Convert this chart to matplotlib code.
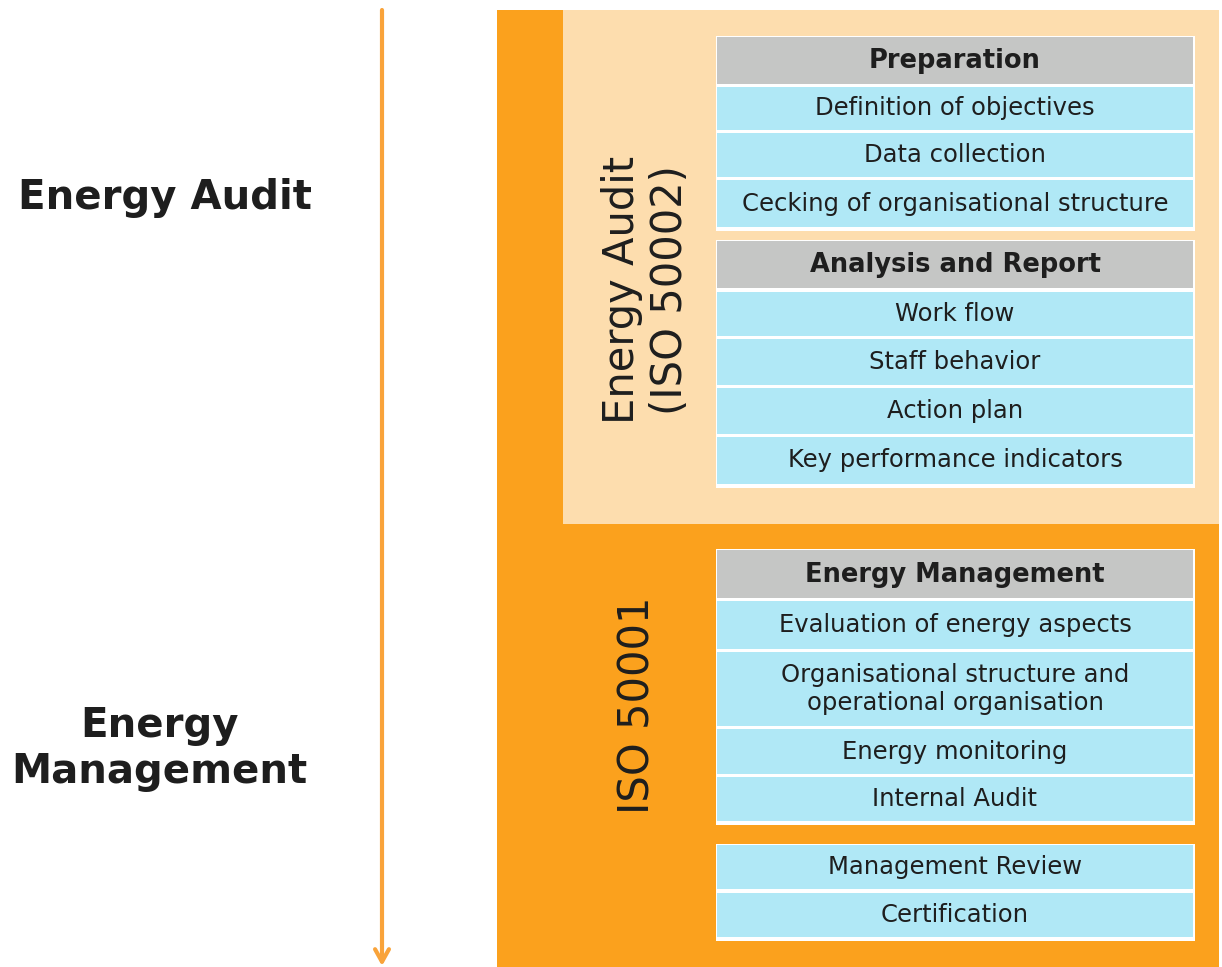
import matplotlib
matplotlib.use("Agg")
import matplotlib.pyplot as plt
from matplotlib.patches import Rectangle, FancyArrowPatch

# ---- content ----
side_labels = ["Energy Audit", "Energy\nManagement"]
band_labels = ["Energy Audit\n(ISO 50002)", "ISO 50001"]

group_headers = ["Preparation", "Analysis and Report", "Energy Management", None]
group_items = [
    ["Definition of objectives", "Data collection", "Cecking of organisational structure"],
    ["Work flow", "Staff behavior", "Action plan", "Key performance indicators"],
    ["Evaluation of energy aspects", "Organisational structure and\noperational organisation",
     "Energy monitoring", "Internal Audit"],
    ["Management Review", "Certification"],
]

# ---- layout (pixels) ----
W, H = 1222, 967
ORANGE = "#FBA11D"
PEACH = "#FDDDAE"
BLUE = "#B0E8F6"
GRAY = "#C5C6C5"
ARROW = "#F9A33A"
TXT = "#1e1e1e"

header_spans = [(37, 84), (241, 288), (550, 598), None]
row_spans = [
    [(87, 132), (133, 179), (180, 229)],
    [(292, 338), (339, 387), (388, 436), (437, 486)],
    [(601, 651), (652, 728), (729, 776), (777, 823)],
    [(845, 891), (893, 939)],
]
BX0, BX1 = 717, 1193

fig = plt.figure(figsize=(W / 100, H / 100), dpi=100)
ax = fig.add_axes([0, 0, 1, 1])
ax.set_xlim(0, W)
ax.set_ylim(H, 0)
ax.axis("off")

# background panels
ax.add_patch(Rectangle((497, 10), 1219 - 497, H - 10, facecolor=ORANGE, edgecolor="none"))
ax.add_patch(Rectangle((563, 10), 1219 - 563, 524 - 10, facecolor=PEACH, edgecolor="none"))

# boxes
for hdr, hspan, items, rspans in zip(group_headers, header_spans, group_items, row_spans):
    tops = [r[0] for r in rspans]
    y_top = hspan[0] if hspan else tops[0]
    y_bot = rspans[-1][1]
    ax.add_patch(Rectangle((BX0 - 1.5, y_top - 1.5), BX1 - BX0 + 3, y_bot - y_top + 3,
                           facecolor="white", edgecolor="none"))
    if hspan:
        ax.add_patch(Rectangle((BX0, hspan[0]), BX1 - BX0, hspan[1] - hspan[0],
                               facecolor=GRAY, edgecolor="none"))
        ax.text((BX0 + BX1) / 2, (hspan[0] + hspan[1]) / 2 + 1, hdr, ha="center", va="center",
                fontsize=18.5, fontweight="bold", color=TXT)
    for label, (y0, y1) in zip(items, rspans):
        ax.add_patch(Rectangle((BX0, y0), BX1 - BX0, y1 - y0 - 2,
                               facecolor=BLUE, edgecolor="none"))
        ax.text((BX0 + BX1) / 2, (y0 + y1) / 2 - 1, label, ha="center", va="center",
                fontsize=17.5, color=TXT, linespacing=1.2)

# rotated band labels
ax.text(646, 290, band_labels[0], rotation=90, ha="center", va="center",
        fontsize=30, color=TXT, linespacing=1.2)
ax.text(637, 705, band_labels[1], rotation=90, ha="center", va="center",
        fontsize=30, color=TXT)

# side labels
ax.text(165, 198, side_labels[0], ha="center", va="center", fontsize=29,
        fontweight="bold", color=TXT)
ax.text(159, 749, side_labels[1], ha="center", va="center", fontsize=29,
        fontweight="bold", color=TXT, linespacing=1.22)

# arrow
ax.add_patch(FancyArrowPatch((382, 10), (382, 966), arrowstyle="->,head_length=9,head_width=5",
                             color=ARROW, lw=3, mutation_scale=1, shrinkA=0, shrinkB=0))

fig.savefig("out.png", dpi=100)
